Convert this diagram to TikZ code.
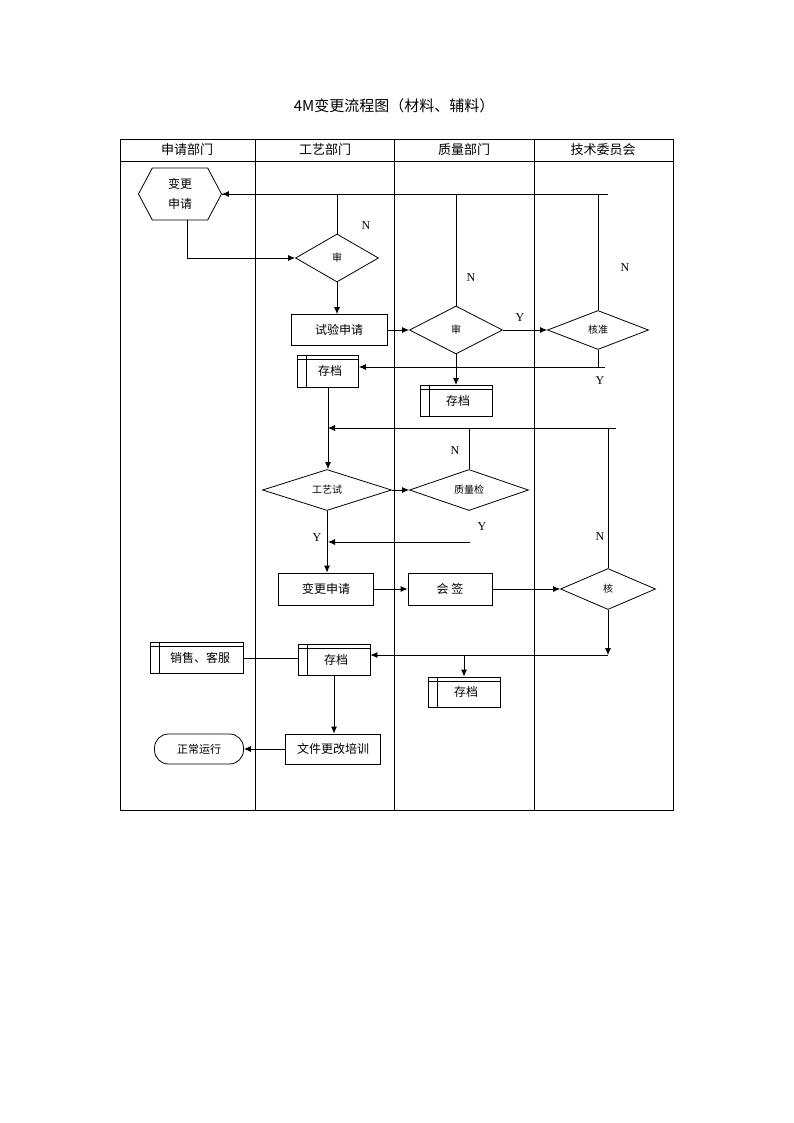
\documentclass[tikz,border=0pt]{standalone}
\usepackage{fontspec}
\setmainfont{Liberation Serif}
\newfontfamily\cjk{Noto Sans CJK SC}
\usetikzlibrary{arrows.meta,shapes.geometric,shapes.symbols}

\tikzset{
  box/.style={draw, rectangle, inner sep=1pt, font=\cjk\fontsize{12}{14}\selectfont},
  decision/.style={draw, diamond, aspect=1, inner sep=0pt, font=\cjk\fontsize{10}{12}\selectfont},
  store/.style={box, minimum width=72pt, minimum height=31pt,
    path picture={
      \draw ([xshift=9pt]path picture bounding box.north west) -- ([xshift=9pt]path picture bounding box.south west);
      \draw ([yshift=-4pt]path picture bounding box.north west) -- ([yshift=-4pt]path picture bounding box.north east);
    }},
  arr/.style={-{Latex[length=7pt,width=6pt]}},
  yn/.style={font=\fontsize{12}{14}\selectfont},
  head/.style={font=\cjk\fontsize{13}{15}\selectfont}
}

\begin{document}
\begin{tikzpicture}[x=1pt, y=-1pt, line width=0.8pt]
\useasboundingbox (0,0) rectangle (794,1123);

% title and lanes
\node[font=\cjk\fontsize{15}{17}\selectfont] (title) at (394,106) {4M变更流程图（材料、辅料）};
\draw (120,139) rectangle (673,810);
\draw (120,161) -- (673,161);
\foreach \x in {255,394,534} {
\draw (\x,139) -- (\x,810);
}
\node[head] (h1) at (187,150) {申请部门};
\node[head] (h2) at (325,150) {工艺部门};
\node[head] (h3) at (464,150) {质量部门};
\node[head] (h4) at (603,150) {技术委员会};

% shapes
\node[draw, signal, signal to=west and east, signal pointer angle=124, minimum width=83pt, minimum height=52pt, inner sep=0pt, align=center, font=\cjk\fontsize{12}{20}\selectfont] (hex) at (180,194) {变更\\申请};
\node[decision, minimum width=83pt, minimum height=48pt] (d1) at (337,258) {审};
\node[box, minimum width=96pt, minimum height=31pt] (trial) at (339,330) {试验申请};
\node[decision, minimum width=93pt, minimum height=48pt] (d2) at (456,330) {审};
\node[decision, minimum width=101pt, minimum height=39pt] (d3) at (598,330) {核准};
\node[store, minimum width=61pt, minimum height=32pt] (s1) at (328,371) {\hspace{4pt}存档};
\node[store] (s2) at (456,401) {\hspace{4pt}存档};
\node[decision, minimum width=129pt, minimum height=41pt] (d4) at (327,490) {工艺试};
\node[decision, minimum width=119pt, minimum height=41pt] (d5) at (469,490) {质量检};
\node[box, minimum width=95pt, minimum height=32pt] (apply) at (326,589) {变更申请};
\node[box, minimum width=84pt, minimum height=32pt] (sign) at (450,589) {会\ 签};
\node[decision, minimum width=95pt, minimum height=41pt] (d6) at (608,589) {核};
\node[store] (s3) at (334,660) {\hspace{4pt}存档};
\node[store, minimum height=30pt] (s4) at (464,692) {\hspace{4pt}存档};
\node[store, minimum width=93pt] (sales) at (197,658) {\hspace{6pt}销售、客服};
\node[box, minimum width=95pt, minimum height=30pt] (train) at (333,749) {文件更改培训};
\node[draw, rectangle, rounded corners=14pt, minimum width=89pt, minimum height=30pt, font=\cjk\fontsize{11}{13}\selectfont] (run) at (199,749) {正常运行};

% free ends
\coordinate (t1) at (608,194);
\coordinate (t2) at (605,367);
\coordinate (t3) at (616,428);
\coordinate (t4) at (470,542);
\coordinate (t5) at (608,655);

% connectors
\draw[arr] ([xshift=7pt]hex.south) |- (d1.west);
\draw[arr] (d1.north) |- (hex.east);
\draw (hex.east) -- (t1);
\draw (d2.north) -- (d2.north |- t1);
\draw (d3.north) -- (d3.north |- t1);
\draw[arr] (d1.south) -- (d1.south |- trial.north);
\draw[arr] (trial.east) -- (d2.west);
\draw[arr] (d2.east) -- (d3.west);
\draw (d3.south) -- (d3.south |- t2);
\draw[arr] (t2) -- (s1.east |- t2);
\draw[arr] (d2.south) -- (s2.north);
\draw[arr] (s1.south) -- (s1.south |- d4.north);
\draw[arr] (t3) -- (s1.south |- t3);
\draw (d5.north) -- (d5.north |- t3);
\draw (d6.north) -- (d6.north |- t3);
\draw[arr] (d4.east) -- (d5.west);
\draw[arr] (t4) -- (s1.south |- t4);
\draw[arr] (d4.south) -- (d4.south |- apply.north);
\draw[arr] (apply.east) -- (sign.west);
\draw[arr] (sign.east) -- (d6.west);
\draw[arr] (d6.south) -- (t5);
\draw[arr] (t5) -- (s3.east |- t5);
\draw[arr] (s4.north |- t5) -- (s4.north);
\draw (s3.west |- sales.east) -- (sales.east);
\draw[arr] (s3.south) -- (s3.south |- train.north);
\draw[arr] (train.west) -- (run.east);

% Y and N
\node[yn] (n1) at (366,226) {N};
\node[yn] (n2) at (471,278) {N};
\node[yn] (n3) at (625,268) {N};
\node[yn] (y1) at (520,318) {Y};
\node[yn] (y2) at (600,381) {Y};
\node[yn] (n4) at (455,451) {N};
\node[yn] (y3) at (482,527) {Y};
\node[yn] (y4) at (317,538) {Y};
\node[yn] (n5) at (600,537) {N};
\end{tikzpicture}
\end{document}
